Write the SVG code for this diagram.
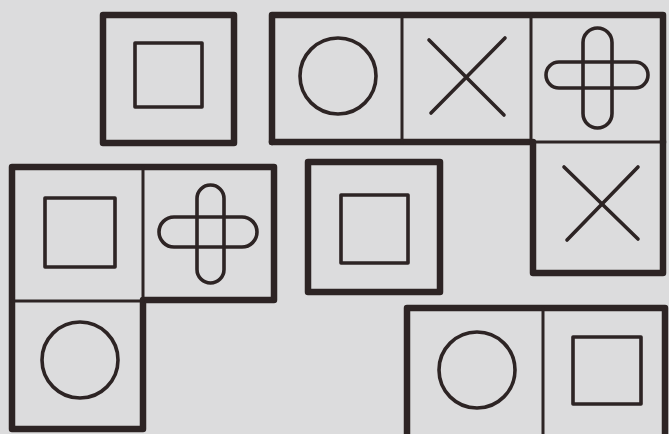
<svg xmlns="http://www.w3.org/2000/svg" width="669" height="434" viewBox="0 0 669 434">
<style>
.thick{fill:none;stroke:#2d2424;stroke-width:6.5;stroke-linejoin:round;stroke-linecap:round}
.thin{fill:none;stroke:#2d2424;stroke-width:3;stroke-linecap:round}
.sym{fill:none;stroke:#2d2424;stroke-width:3.6;stroke-linecap:round;stroke-linejoin:round}
</style>
<rect x="0" y="0" width="669" height="434" fill="#dcdcdd"/>
<g id="tile-top-left">
<rect class="thick" x="103" y="15" width="131" height="128"/>
<rect class="sym" x="135" y="43" width="67" height="64"/>
</g>
<g id="tile-top-row">
<path class="thick" d="M272 142 L272 15 L663 15 L663 142"/>
<path class="thick" d="M272 142 L531 142"/>
<line class="thin" x1="402" y1="15" x2="402" y2="142"/>
<line class="thin" x1="531" y1="15" x2="531" y2="142"/>
<line class="thin" x1="531" y1="142" x2="663" y2="142"/>
<circle class="sym" cx="338" cy="76" r="38"/>
<line class="sym" x1="429" y1="40" x2="504" y2="115"/>
<line class="sym" x1="505" y1="38" x2="431" y2="113"/>
<rect class="sym" x="583" y="28" width="29" height="100" rx="14.5"/>
<rect class="sym" x="546" y="62" width="102" height="26" rx="13"/>
</g>
<g id="tile-x-right">
<path class="thick" d="M533 142 L533 273 L663 273 L663 142"/>
<line class="sym" x1="564" y1="167" x2="638" y2="239"/>
<line class="sym" x1="638" y1="167" x2="567" y2="240"/>
</g>
<g id="tile-left-L">
<path class="thick" d="M12 167 L274 167 L274 300 L143 300 L143 429 L12 429 Z"/>
<line class="thin" x1="143" y1="167" x2="143" y2="300"/>
<line class="thin" x1="12" y1="301" x2="143" y2="301"/>
<rect class="sym" x="45" y="198" width="70" height="69"/>
<rect class="sym" x="197" y="185" width="27" height="98" rx="13.5"/>
<rect class="sym" x="159" y="217" width="98" height="30" rx="15"/>
<circle class="sym" cx="80" cy="360" r="38"/>
</g>
<g id="tile-middle">
<rect class="thick" x="308" y="162" width="132" height="130"/>
<rect class="sym" x="341" y="195" width="67" height="68"/>
</g>
<g id="tile-bottom-right">
<path class="thick" d="M407 440 L407 308 L665 308 L665 440"/>
<line class="thin" x1="543" y1="308" x2="543" y2="440"/>
<circle class="sym" cx="477" cy="370" r="38"/>
<rect class="sym" x="573" y="337" width="68" height="67"/>
</g>
</svg>
